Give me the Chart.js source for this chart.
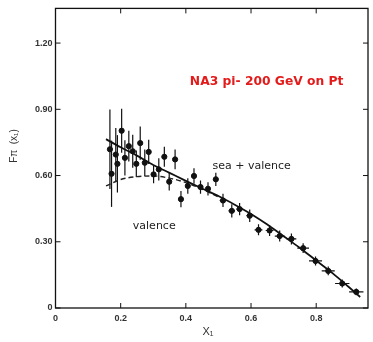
<!DOCTYPE html>
<html>
<head>
<meta charset="utf-8">
<script src="https://cdn.jsdelivr.net/npm/chart.js@4"></script>
<style>
  html, body { margin: 0; padding: 0; background: #fff; }
  #chart-box { width: 373px; height: 342px; position: relative; }
</style>
</head>
<body>
<div id="chart-box"><canvas id="chart"></canvas></div>
<script>
// axis ticks
const xTicks = [0, 0.2, 0.4, 0.6, 0.8];
const yTicks = [0, 0.30, 0.60, 0.90, 1.20];

// NA3 data points
const dataX = [0.167, 0.172, 0.185, 0.190, 0.203, 0.213, 0.225, 0.237, 0.248, 0.260, 0.274, 0.286,
  0.301, 0.317, 0.334, 0.349, 0.367, 0.385, 0.406, 0.425, 0.445, 0.468, 0.492, 0.514, 0.541,
  0.565, 0.596, 0.623, 0.657, 0.688, 0.724, 0.760, 0.798, 0.837, 0.880, 0.923];
const dataY = [0.719, 0.608, 0.695, 0.653, 0.803, 0.680, 0.733, 0.710, 0.653, 0.747, 0.658, 0.707,
  0.605, 0.628, 0.685, 0.572, 0.673, 0.493, 0.553, 0.598, 0.548, 0.540, 0.583, 0.487, 0.440,
  0.448, 0.418, 0.354, 0.351, 0.326, 0.313, 0.271, 0.213, 0.168, 0.111, 0.073];
const errY = [0.18, 0.15, 0.12, 0.13, 0.10, 0.08, 0.07, 0.075, 0.06, 0.075, 0.06, 0.055,
  0.04, 0.05, 0.045, 0.04, 0.045, 0.037, 0.035, 0.035, 0.03, 0.03, 0.03, 0.03, 0.03,
  0.028, 0.028, 0.025, 0.025, 0.025, 0.025, 0.022, 0.02, 0.02, 0.018, 0.015];
const errX = [0, 0, 0, 0, 0, 0, 0, 0, 0, 0, 0, 0,
  0, 0, 0, 0, 0, 0.005, 0.005, 0.005, 0.006, 0.006, 0.007, 0.01, 0.01,
  0.01, 0.01, 0.012, 0.012, 0.015, 0.015, 0.018, 0.02, 0.02, 0.022, 0.022];

// fitted curves
const seaValX = [0.155, 0.2, 0.25, 0.3, 0.35, 0.4, 0.45, 0.5, 0.55, 0.6, 0.65, 0.7, 0.75, 0.8, 0.85, 0.9, 0.935];
const seaValY = [0.765, 0.728, 0.69, 0.648, 0.612, 0.576, 0.541, 0.507, 0.468, 0.426, 0.378, 0.325, 0.272, 0.215, 0.158, 0.095, 0.05];
const valX = [0.155, 0.2, 0.25, 0.3, 0.35, 0.4, 0.45, 0.5];
const valY = [0.553, 0.582, 0.595, 0.598, 0.588, 0.568, 0.538, 0.503];

const titleText = 'NA3 pi- 200 GeV on Pt';
const seaLabel = 'sea + valence';
const valLabel = 'valence';

const toPoints = (xs, ys) => xs.map((x, i) => ({ x: x, y: ys[i] }));

const errorBarPlugin = {
  id: 'errorBars',
  beforeDatasetsDraw(chart) {
    const { ctx, scales: { x, y } } = chart;
    ctx.save();
    ctx.strokeStyle = '#111';
    ctx.lineWidth = 1.2;
    dataX.forEach((vx, i) => {
      const px = x.getPixelForValue(vx);
      const py = y.getPixelForValue(dataY[i]);
      ctx.beginPath();
      ctx.moveTo(px, y.getPixelForValue(dataY[i] + errY[i]));
      ctx.lineTo(px, y.getPixelForValue(dataY[i] - errY[i]));
      if (errX[i] > 0) {
        ctx.moveTo(x.getPixelForValue(vx - errX[i]), py);
        ctx.lineTo(x.getPixelForValue(vx + errX[i]), py);
      }
      ctx.stroke();
    });
    ctx.restore();
  }
};

const framePlugin = {
  id: 'frame',
  afterDraw(chart) {
    const { ctx, chartArea: a, scales: { x, y } } = chart;
    ctx.save();
    ctx.strokeStyle = '#111';
    ctx.lineWidth = 1.3;
    ctx.strokeRect(a.left, a.top, a.right - a.left, a.bottom - a.top);
    ctx.lineWidth = 1;
    ctx.beginPath();
    yTicks.forEach(v => {
      const py = y.getPixelForValue(v);
      ctx.moveTo(a.left, py); ctx.lineTo(a.left + 5, py);
      ctx.moveTo(a.right, py); ctx.lineTo(a.right - 5, py);
    });
    xTicks.forEach(v => {
      const px = x.getPixelForValue(v);
      ctx.moveTo(px, a.bottom); ctx.lineTo(px, a.bottom - 5);
      ctx.moveTo(px, a.top); ctx.lineTo(px, a.top + 5);
    });
    ctx.stroke();

    // labels inside the plot
    ctx.textAlign = 'center';
    ctx.textBaseline = 'middle';
    ctx.fillStyle = '#e31b1b';
    ctx.font = 'bold 12.3px "DejaVu Sans", sans-serif';
    ctx.fillText(titleText, x.getPixelForValue(0.648), y.getPixelForValue(1.023));
    ctx.fillStyle = '#222';
    ctx.font = '11px "DejaVu Sans", sans-serif';
    ctx.fillText(seaLabel, x.getPixelForValue(0.602), y.getPixelForValue(0.641));
    ctx.fillText(valLabel, x.getPixelForValue(0.303), y.getPixelForValue(0.372));

    // axis titles
    ctx.fillStyle = '#333';
    ctx.font = '11px "Liberation Sans", sans-serif';
    ctx.fillText('X\u2081', 208, 332);
    ctx.save();
    ctx.translate(14, 146);
    ctx.rotate(-Math.PI / 2);
    ctx.font = '10px "Liberation Sans", sans-serif';
    ctx.fillText('F\u03c0  (x\u2081)', 0, 0);
    ctx.restore();
    ctx.restore();
  }
};

const tickFont = { family: '"Liberation Sans Narrow", "Liberation Sans", sans-serif', size: 9, weight: 'bold' };

const chart = new Chart(document.getElementById('chart').getContext('2d'), {
  type: 'scatter',
  data: {
    datasets: [
      {
        label: 'data',
        data: toPoints(dataX, dataY),
        pointRadius: 2.6,
        pointBackgroundColor: '#111',
        pointBorderColor: '#111',
        showLine: false
      },
      {
        label: seaLabel,
        data: toPoints(seaValX, seaValY),
        showLine: true,
        pointRadius: 0,
        borderColor: '#111',
        borderWidth: 1.8,
        cubicInterpolationMode: 'monotone'
      },
      {
        label: valLabel,
        data: toPoints(valX, valY),
        showLine: true,
        pointRadius: 0,
        borderColor: '#222',
        borderWidth: 1.4,
        borderDash: [5, 3],
        cubicInterpolationMode: 'monotone'
      }
    ]
  },
  options: {
    responsive: true,
    maintainAspectRatio: false,
    animation: false,
    layout: { padding: { top: 6, right: 1.5, left: 0, bottom: 0 } },
    plugins: {
      legend: { display: false },
      tooltip: { enabled: false }
    },
    scales: {
      x: {
        type: 'linear',
        min: 0,
        max: 0.959,
        afterFit: (scale) => { scale.height = 34; },
        afterBuildTicks: (scale) => { scale.ticks = xTicks.map(v => ({ value: v })); },
        grid: { display: false, drawTicks: false },
        border: { display: false },
        ticks: {
          padding: 5,
          color: '#333',
          font: tickFont,
          maxRotation: 0,
          callback: (v) => v === 0 ? '0' : v.toFixed(1)
        }
      },
      y: {
        type: 'linear',
        min: 0,
        max: 1.357,
        afterFit: (scale) => { scale.width = 55.5; },
        afterBuildTicks: (scale) => { scale.ticks = yTicks.map(v => ({ value: v })); },
        grid: { display: false, drawTicks: false },
        border: { display: false },
        ticks: {
          padding: 3,
          color: '#333',
          font: tickFont,
          callback: (v) => v === 0 ? '0' : v.toFixed(2)
        }
      }
    }
  },
  plugins: [errorBarPlugin, framePlugin]
});
</script>
</body>
</html>
